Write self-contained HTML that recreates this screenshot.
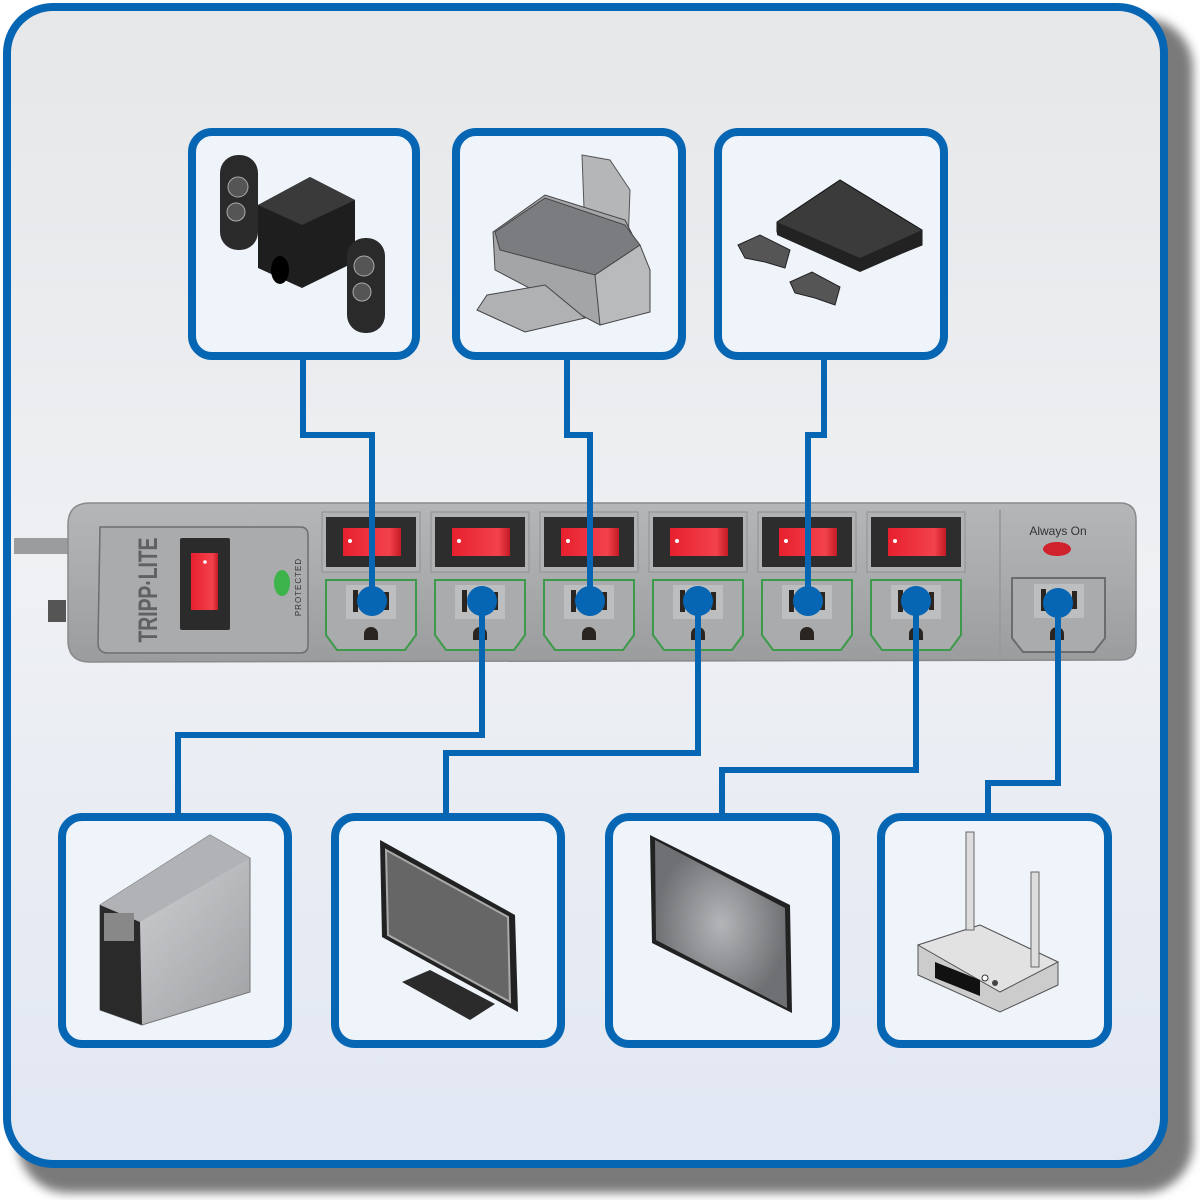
<!DOCTYPE html>
<html><head><meta charset="utf-8"><style>
html,body{margin:0;padding:0;background:#fff;}
svg{display:block;}
</style></head><body>
<svg width="1200" height="1200" viewBox="0 0 1200 1200" xmlns="http://www.w3.org/2000/svg" font-family="Liberation Sans, sans-serif">
<defs>
<linearGradient id="bg" x1="0" y1="0" x2="0" y2="1"><stop offset="0" stop-color="#e6e7e9"/><stop offset="0.5" stop-color="#eef0f3"/><stop offset="1" stop-color="#e1e7f3"/></linearGradient>
<linearGradient id="strip" x1="0" y1="0" x2="0" y2="1"><stop offset="0" stop-color="#b4b6b8"/><stop offset="0.5" stop-color="#a8aaac"/><stop offset="1" stop-color="#9a9c9e"/></linearGradient>
<linearGradient id="red" x1="0" y1="0" x2="1" y2="0"><stop offset="0" stop-color="#e8202e"/><stop offset="0.8" stop-color="#f2424c"/><stop offset="1" stop-color="#c41a24"/></linearGradient>
<linearGradient id="gray" x1="0" y1="0" x2="1" y2="1"><stop offset="0" stop-color="#d8d9db"/><stop offset="0.5" stop-color="#bcbdc0"/><stop offset="1" stop-color="#9fa1a4"/></linearGradient>
<radialGradient id="scr"><stop offset="0" stop-color="#b4b5b8"/><stop offset="1" stop-color="#6e7073"/></radialGradient>
<filter id="sh" x="-10%" y="-10%" width="130%" height="130%"><feGaussianBlur stdDeviation="5"/></filter>
<g id="out">
<rect x="322" y="512" width="98" height="60" fill="#b0b2b4" stroke="#8e9092"/>
<rect x="326" y="517" width="90" height="50" fill="#2d2d2d"/><rect x="343" y="528" width="58" height="28" fill="url(#red)"/><circle cx="350" cy="541" r="2" fill="#fff"/>
<path d="M326,580 L416,580 L416,635 L405,650 L337,650 L326,635 Z" fill="#a9abad" stroke="#3d9a4a" stroke-width="2"/>
<rect x="346" y="585" width="50" height="34" fill="#bdbec0"/><rect x="353" y="590" width="5" height="22" fill="#2a2520"/><rect x="384" y="592" width="5" height="18" fill="#2a2520"/>
<path d="M364,640 L364,634 A7,7 0 0 1 378,634 L378,640 Z" fill="#2a2520"/>
</g>
</defs>
<rect x="0" y="0" width="1200" height="1200" fill="#fff"/>
<rect x="18" y="18" width="1175" height="1175" rx="50" fill="#7a7a7a" filter="url(#sh)"/>
<rect x="7" y="7" width="1157" height="1157" rx="46" fill="url(#bg)" stroke="#0766b3" stroke-width="8"/>

<g fill="none" stroke="#0766b3" stroke-width="6">
<polyline points="303,360 303,435 372,435 372,600"/>
<polyline points="567,360 567,435 590,435 590,600"/>
<polyline points="824,360 824,435 808,435 808,600"/>
</g>

<rect x="14" y="538" width="64" height="16" fill="#9a9c9e"/>
<rect x="48" y="600" width="18" height="22" fill="#555"/>
<path d="M90,503 L1120,503 Q1136,503 1136,520 L1136,645 Q1136,660 1120,660 L90,662 Q68,662 68,640 L68,525 Q68,503 90,503 Z" fill="url(#strip)" stroke="#888a8c" stroke-width="1.5"/>
<path d="M100,527 L300,527 Q308,527 308,535 L308,645 Q308,653 300,653 L108,653 Q98,653 98,643 Z" fill="#a9abad" stroke="#6c6e70" stroke-width="1.5"/>
<text transform="translate(157,590) rotate(-90)" text-anchor="middle" font-size="27" font-weight="bold" fill="#5f6163" textLength="105" lengthAdjust="spacingAndGlyphs">TRIPP·LITE</text>
<rect x="180" y="538" width="50" height="92" fill="#2b2b2b" rx="2"/>
<rect x="191" y="553" width="27" height="57" fill="url(#red)"/>
<circle cx="205" cy="562" r="1.8" fill="#fff"/>
<ellipse cx="282" cy="583" rx="8" ry="13" fill="#3cb44a"/>
<text transform="translate(301,587) rotate(-90)" text-anchor="middle" font-size="8" fill="#333" letter-spacing="1">PROTECTED</text>

<use href="#out"/>
<use href="#out" transform="translate(109,0)"/>
<use href="#out" transform="translate(218,0)"/>
<use href="#out" transform="translate(327,0)"/>
<use href="#out" transform="translate(436,0)"/>
<use href="#out" transform="translate(545,0)"/>

<line x1="1000" y1="510" x2="1000" y2="655" stroke="#999b9d" stroke-width="2"/>
<text x="1058" y="535" text-anchor="middle" font-size="12" fill="#333">Always On</text>
<ellipse cx="1057" cy="549" rx="14" ry="7" fill="#d0222c"/>
<path d="M1012,578 L1105,578 L1105,638 L1094,652 L1023,652 L1012,638 Z" fill="#a9abad" stroke="#6a6c6e" stroke-width="2"/>
<rect x="1034" y="584" width="50" height="34" fill="#bdbec0"/><rect x="1041" y="589" width="5" height="22" fill="#2a2520"/><rect x="1072" y="591" width="5" height="18" fill="#2a2520"/>
<path d="M1050,640 L1050,634 A7,7 0 0 1 1064,634 L1064,640 Z" fill="#2a2520"/>

<g fill="none" stroke="#0766b3" stroke-width="6">
<polyline points="372,440 372,600"/>
<polyline points="590,440 590,600"/>
<polyline points="808,440 808,600"/>
<polyline points="482,600 482,735 178,735 178,815"/>
<polyline points="698,600 698,753 446,753 446,815"/>
<polyline points="916,600 916,770 722,770 722,815"/>
<polyline points="1058,603 1058,783 988,783 988,815"/>
</g>
<g fill="#0766b3">
<circle cx="372" cy="601" r="15"/><circle cx="482" cy="601" r="15"/><circle cx="590" cy="601" r="15"/>
<circle cx="698" cy="601" r="15"/><circle cx="808" cy="601" r="15"/><circle cx="916" cy="601" r="15"/><circle cx="1058" cy="603" r="15"/>
</g>

<g fill="#eff3fa" stroke="#0766b3" stroke-width="8">
<rect x="192" y="132" width="224" height="224" rx="20"/>
<rect x="456" y="132" width="226" height="224" rx="20"/>
<rect x="718" y="132" width="226" height="224" rx="20"/>
<rect x="62" y="817" width="226" height="227" rx="20"/>
<rect x="335" y="817" width="226" height="227" rx="20"/>
<rect x="609" y="817" width="227" height="227" rx="20"/>
<rect x="881" y="817" width="227" height="227" rx="20"/>
</g>

<rect x="220" y="155" width="38" height="95" rx="18" fill="#2a2a2a"/>
<circle cx="238" cy="187" r="10" fill="#555" stroke="#aaa"/><circle cx="236" cy="212" r="9" fill="#555" stroke="#aaa"/>
<path d="M258,205 L310,177 L355,200 L355,262 L302,288 L258,268 Z" fill="#1e1e1e"/>
<path d="M258,205 L310,177 L355,200 L302,225 Z" fill="#3a3a3a"/>
<ellipse cx="280" cy="270" rx="9" ry="14" fill="#000"/>
<rect x="347" y="238" width="38" height="95" rx="18" fill="#2a2a2a"/>
<circle cx="364" cy="266" r="10" fill="#555" stroke="#aaa"/><circle cx="362" cy="292" r="9" fill="#555" stroke="#aaa"/>

<!-- printer -->
<path d="M582,155 L610,160 L630,190 L628,245 L585,235 Z" fill="#b5b6b8" stroke="#555"/>
<path d="M493,232 L545,195 L625,220 L650,270 L650,310 L600,325 L495,270 Z" fill="#a3a5a7" stroke="#444"/>
<path d="M495,232 L545,198 L625,225 L640,245 L595,275 L500,250 Z" fill="#7a7c80" stroke="#444"/>
<path d="M595,275 L640,245 L650,270 L650,312 L600,325 Z" fill="#b9babc" stroke="#444"/>
<path d="M487,295 L545,285 L585,318 L525,332 L477,310 Z" fill="#b0b1b3" stroke="#444"/>

<path d="M777,222 L840,180 L922,230 L922,245 L860,270 L777,232 Z" fill="#3b3b3b" stroke="#111"/>
<path d="M777,222 L860,258 L922,230 L922,245 L860,272 L777,235 Z" fill="#222"/>
<path d="M738,245 L760,235 L790,250 L785,268 L765,262 L745,258 Z" fill="#555" stroke="#222"/>
<path d="M790,282 L812,272 L840,287 L835,305 L815,298 L795,293 Z" fill="#555" stroke="#222"/>

<path d="M100,905 L210,835 L250,858 L250,992 L142,1025 L100,1010 Z" fill="url(#gray)" stroke="#777"/>
<path d="M100,905 L210,835 L250,858 L140,922 Z" fill="#b0b2b5"/>
<path d="M100,905 L140,922 L142,1025 L100,1010 Z" fill="#2a2a2a"/>
<rect x="104" y="913" width="30" height="28" fill="#888"/>

<path d="M380,840 L515,915 L518,1012 L382,937 Z" fill="#222"/>
<path d="M386,850 L508,917 L510,1002 L388,935 Z" fill="#666" stroke="#aaa" stroke-width="2"/>
<path d="M402,982 L430,970 L495,1004 L470,1020 Z" fill="#2b2b2b"/>

<path d="M650,835 L790,905 L792,1013 L652,943 Z" fill="#222"/>
<path d="M655,840 L785,908 L787,1008 L656,940 Z" fill="url(#scr)"/>

<path d="M918,945 L980,925 L1058,962 L1058,985 L1000,1012 L918,975 Z" fill="#ccc" stroke="#555"/>
<path d="M918,945 L980,925 L1058,962 L1000,992 Z" fill="#e2e2e2" stroke="#555"/>
<path d="M935,962 L980,980 L980,996 L935,978 Z" fill="#111"/>
<rect x="966" y="832" width="8" height="98" fill="#ddd" stroke="#666"/>
<rect x="1031" y="872" width="8" height="95" fill="#ddd" stroke="#666"/>
<circle cx="985" cy="978" r="3" fill="#fff" stroke="#333"/><circle cx="995" cy="983" r="3" fill="#444"/>
</svg>
</body></html>
